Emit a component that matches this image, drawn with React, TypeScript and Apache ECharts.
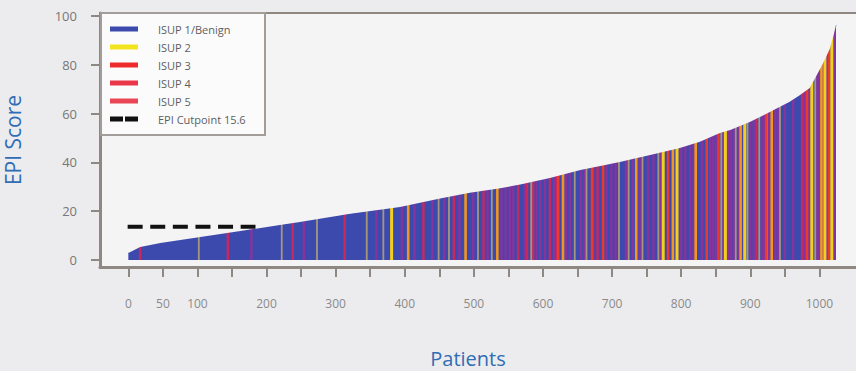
import React, { useEffect, useRef } from "react";
import * as echarts from "echarts";

// ---- axis ticks / labels ----
const X_TICKS = [0, 50, 100, 150, 200, 250, 300, 350, 400, 450, 500, 550, 600, 650, 700, 750, 800, 850, 900, 950, 1000];
const X_LABELS = [0, 50, 100, 200, 300, 400, 500, 600, 700, 800, 900, 1000];
const Y_TICKS = [0, 20, 40, 60, 80, 100];

// ---- sorted EPI score curve (patient rank, score) ----
const CURVE_PATIENT = [0, 17, 46, 104, 162, 219, 248, 321, 393, 451, 494, 538, 567, 610, 654, 683, 711, 755, 798, 827, 856, 871, 900, 929, 957, 972, 986, 1001, 1009, 1015, 1021, 1024];
const CURVE_SCORE = [2.9, 5.3, 7.0, 9.4, 11.9, 14.3, 15.6, 18.9, 21.7, 25.2, 27.6, 29.4, 30.9, 33.6, 36.9, 38.5, 40.2, 43.0, 45.9, 48.4, 52.0, 53.3, 56.6, 60.7, 64.8, 67.6, 70.5, 78.3, 82.8, 86.5, 92.6, 96.3];

// ---- EPI cutpoint ----
const CUTPOINT_NAME = "EPI Cutpoint 15.6";
const CUTPOINT_LEVEL = 13.6; // level where the dashed line is drawn in the picture
const CUTPOINT_FROM = -1;
const CUTPOINT_TO = 184;

// ---- patients (rank) with ISUP grade >= 2, read from the stripes ----
const ISUP2_WIDE = [381, 774, 794, 864, 892, 989, 1008, 1018];
const ISUP2_THIN = [102, 222, 273, 345, 369, 449, 464, 506, 526, 583, 646, 663, 710, 724, 744, 767, 858, 879, 896, 913, 924, 943, 994];
const ISUP3_ORANGE = [405, 488, 534, 629, 735, 788, 821, 886, 931, 1003];
const ISUP3_RED = [622, 671, 687, 781, 837, 854, 923, 982, 1014];
const ISUP4 = [17, 144, 238, 313, 427, 471, 514, 564, 577, 586, 610, 620, 679, 909, 975];
const ISUP5 = [178, 254, 359, 396, 414, 440, 457, 479, 499, 520, 540, 546, 552, 557, 574, 591, 596, 603, 616, 633, 639, 655, 660, 673, 692, 699, 705, 720, 730, 740, 752, 760, 770, 800, 806, 813, 818, 830, 842, 846, 850, 861, 868, 872, 876, 883, 900, 905, 917, 920, 927, 936, 940, 950, 962, 978, 985, 997, 1000, 1006, 1011, 1021];

const SERIES_NAMES = ["ISUP 1/Benign", "ISUP 2", "ISUP 3", "ISUP 4", "ISUP 5", CUTPOINT_NAME];
const LEGEND_COLORS = ["#3d4aad", "#f2e41e", "#ee2a2a", "#ea3747", "#ea4655", "#111111"];

const FONT = "'Open Sans', 'Noto Sans', sans-serif";
const PLOT_BG = "#f4f4f4";
const AXIS_COLOR = "#8e8782";
const BLUE = "#3d4aad";

export default function App() {
  const ref = useRef<HTMLDivElement>(null);

  useEffect(() => {
    if (!ref.current) return;
    const chart = echarts.init(ref.current, undefined, { renderer: "svg" });

    const curve = CURVE_PATIENT.map((p, i) => [p, CURVE_SCORE[i]]);
    // each stripe spans from 0 up to the top; the curve mask trims it to the patient's score
    const stripe = (arr: number[]) => arr.map((p) => [p, 100]);

    const stripeSeries = (name: string, data: number[], color: string, width: number) => ({
      name,
      type: "custom",
      data: stripe(data),
      encode: { x: 0, y: 1 },
      itemStyle: { color },
      z: 3,
      silent: true,
      clip: true,
      renderItem: (_params: any, api: any) => {
        const xv = api.value(0);
        const top = api.coord([xv, api.value(1)]);
        const base = api.coord([xv, 0]);
        return {
          type: "rect",
          shape: { x: top[0] - width / 2, y: top[1], width, height: base[1] - top[1] },
          style: { fill: color },
        };
      },
    });

    const option: any = {
      animation: false,
      textStyle: { fontFamily: FONT },
      grid: {
        left: 100,
        right: 0,
        top: 13,
        bottom: 104,
        containLabel: false,
        outerBoundsMode: "none",
        show: true,
        backgroundColor: PLOT_BG,
        borderWidth: 0,
      },
      xAxis: [
        {
          type: "value",
          min: -41,
          max: 1053,
          position: "bottom",
          z: 10,
          name: "Patients",
          nameLocation: "middle",
          nameGap: 81,
          nameTextStyle: { color: "#2f6db5", fontSize: 20, fontFamily: FONT, padding: [0, 20, 0, 0] },
          axisLine: { show: true, onZero: false, lineStyle: { color: AXIS_COLOR, width: 3 } },
          axisTick: { show: true, customValues: X_TICKS, length: 10, lineStyle: { color: AXIS_COLOR, width: 2 } },
          axisLabel: {
            customValues: X_LABELS,
            margin: 30,
            color: "#8a8a8a",
            fontSize: 12,
            fontFamily: FONT,
            formatter: (v: number) => String(v),
          },
          splitLine: { show: false },
        },
        {
          type: "value",
          min: -41,
          max: 1053,
          position: "top",
          z: 10,
          axisLine: { show: true, onZero: false, lineStyle: { color: AXIS_COLOR, width: 2 } },
          axisTick: { show: false },
          axisLabel: { show: false },
          splitLine: { show: false },
        },
      ],
      yAxis: {
        type: "value",
        min: -2.87,
        max: 101.2,
        z: 10,
        name: "EPI Score",
        nameLocation: "middle",
        nameGap: 77,
        nameTextStyle: { color: "#2f6db5", fontSize: 21, fontFamily: FONT },
        axisLine: { show: true, onZero: false, lineStyle: { color: AXIS_COLOR, width: 3 } },
        axisTick: { show: true, customValues: Y_TICKS, length: 9, lineStyle: { color: AXIS_COLOR, width: 2 } },
        axisLabel: { customValues: Y_TICKS, margin: 23, color: "#777777", fontSize: 13, fontFamily: FONT },
        splitLine: { show: false },
      },
      legend: {
        orient: "vertical",
        left: 110,
        top: 22,
        padding: 0,
        itemWidth: 28,
        itemHeight: 5,
        itemGap: 4,
        z: 21,
        selectedMode: false,
        textStyle: { fontSize: 11, color: "#5e5e5e", fontFamily: FONT, lineHeight: 14, padding: [0, 0, 0, 15] },
        data: SERIES_NAMES.map((name, i) => ({
          name,
          icon: i === 5 ? "path://M0,0h13v5h-13zM15,0h13v5h-13z" : "rect",
          itemStyle: { color: LEGEND_COLORS[i], borderWidth: 0 },
        })),
      },
      graphic: {
        elements: [
          {
            type: "rect",
            z: 20,
            shape: { x: 101, y: 13, width: 164, height: 122 },
            style: { fill: "#fbfbfb", stroke: "#a39d99", lineWidth: 2 },
            silent: true,
          },
        ],
      },
      series: [
        {
          name: SERIES_NAMES[0],
          type: "line",
          data: curve,
          showSymbol: false,
          symbol: "none",
          lineStyle: { color: BLUE, width: 1 },
          itemStyle: { color: BLUE },
          areaStyle: { color: BLUE, opacity: 1 },
          z: 2,
          silent: true,
        },
        stripeSeries("ISUP 5", ISUP5, "#84349c", 2.4),
        stripeSeries("ISUP 4", ISUP4, "#c9285f", 2.4),
        stripeSeries("ISUP 2", ISUP2_THIN, "#a6977c", 1.8),
        stripeSeries("ISUP 3", ISUP3_RED, "#e93a2b", 2.6),
        stripeSeries("ISUP 3", ISUP3_ORANGE, "#f2961f", 2.6),
        stripeSeries("ISUP 2", ISUP2_WIDE, "#f3cf1d", 3),
        {
          name: "mask",
          type: "line",
          data: curve,
          showSymbol: false,
          symbol: "none",
          lineStyle: { width: 0, opacity: 0 },
          areaStyle: { color: PLOT_BG, opacity: 1, origin: "end" },
          z: 4,
          silent: true,
        },
        {
          name: CUTPOINT_NAME,
          type: "line",
          data: [
            [CUTPOINT_FROM, CUTPOINT_LEVEL],
            [CUTPOINT_TO, CUTPOINT_LEVEL],
          ],
          showSymbol: false,
          symbol: "none",
          lineStyle: { color: "#111111", width: 4, type: [15, 7.6], cap: "butt" },
          itemStyle: { color: "#111111" },
          z: 5,
          silent: true,
        },
      ],
    };

    chart.setOption(option);
    return () => chart.dispose();
  }, []);

  return (
    <div
      style={{ position: "fixed", left: 0, top: 0, width: 856, height: 371, background: "#ececee" }}
    >
      <div ref={ref} style={{ width: 856, height: 371 }} />
    </div>
  );
}
